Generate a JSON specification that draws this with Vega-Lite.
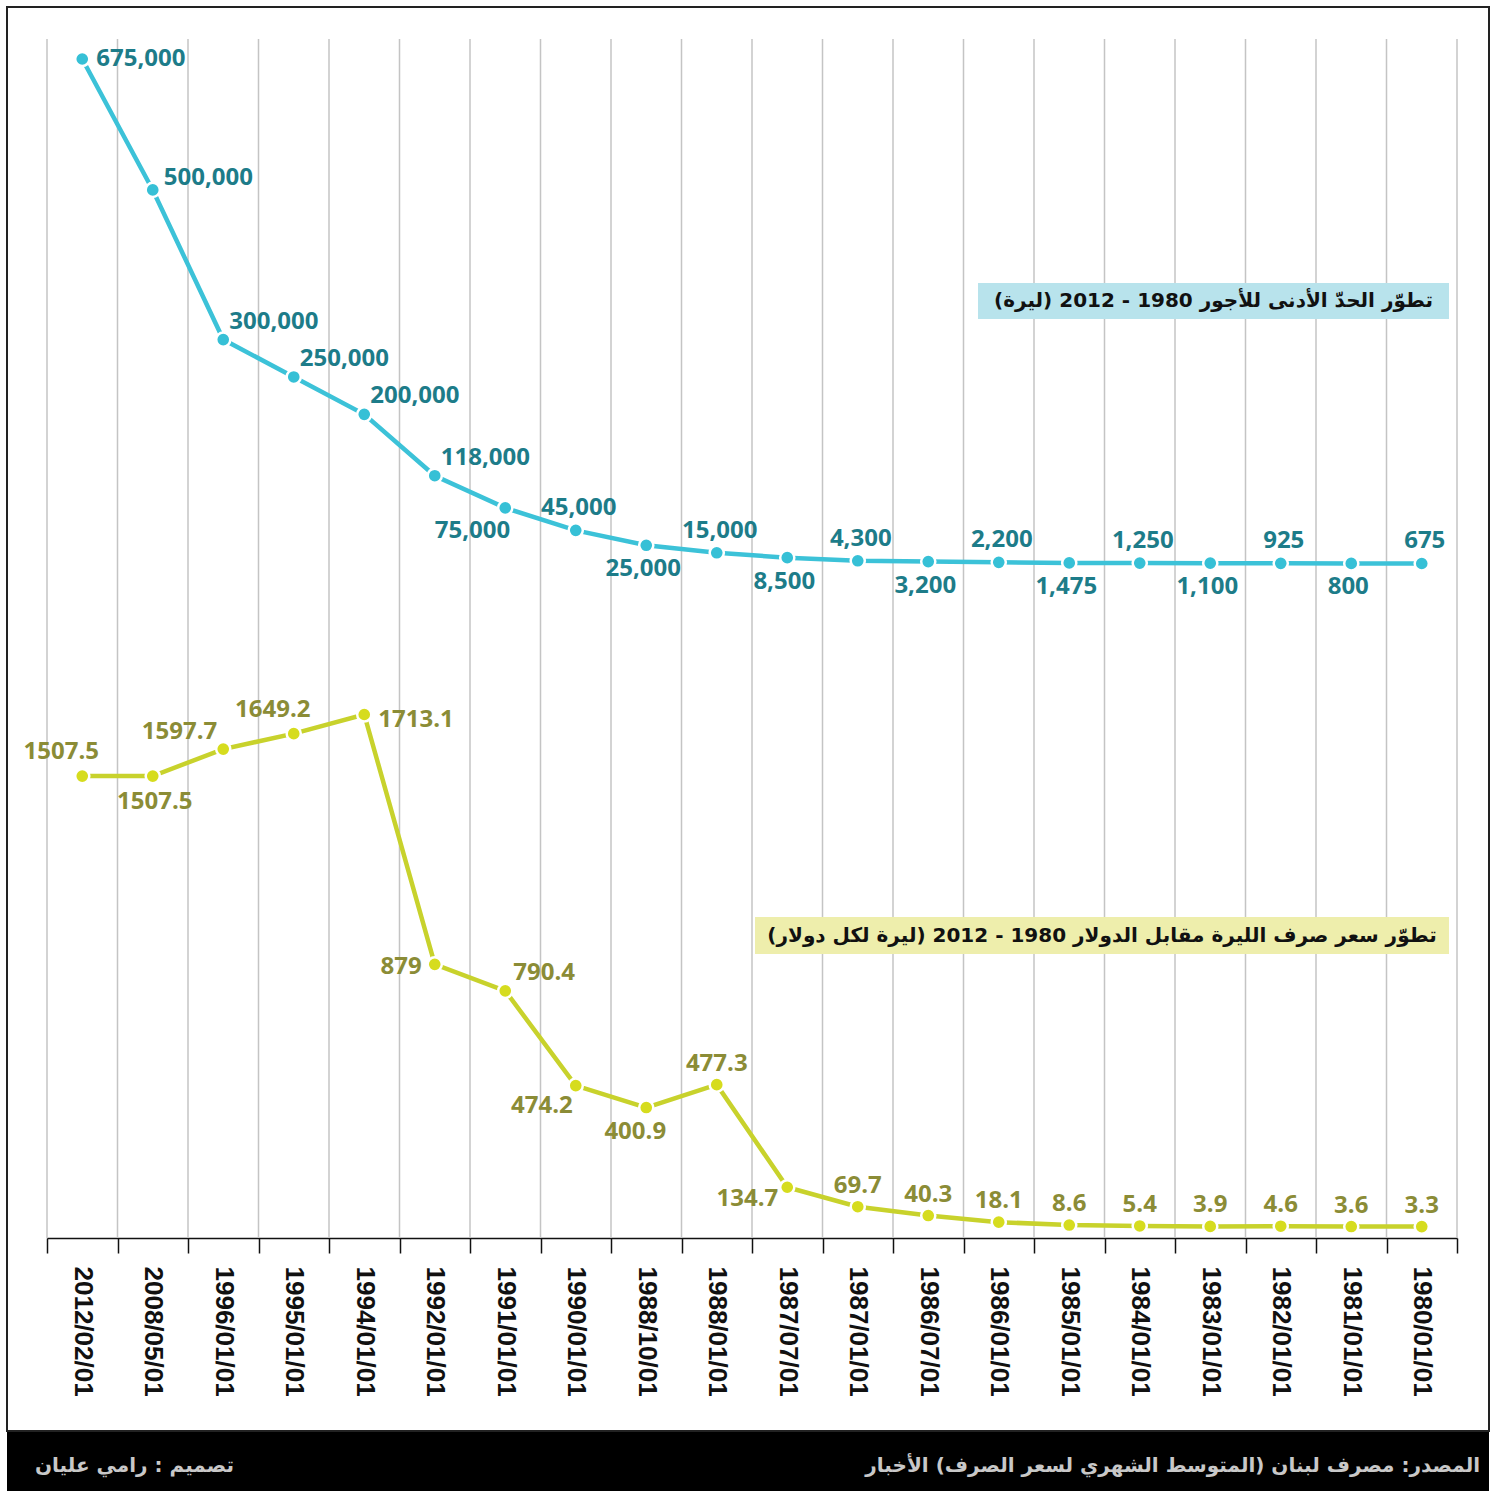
{
  "$schema": "https://vega.github.io/schema/vega-lite/v6.json",
  "background": "white",
  "padding": {"left": -7, "top": 6, "right": 0, "bottom": 0},
  "spacing": 0,
  "config": {"view": {"stroke": null}},
  "datasets": {
    "series": [
      {"date": "2012/02/01", "wage": 675000, "rate": 1507.5},
      {"date": "2008/05/01", "wage": 500000, "rate": 1507.5},
      {"date": "1996/01/01", "wage": 300000, "rate": 1597.7},
      {"date": "1995/01/01", "wage": 250000, "rate": 1649.2},
      {"date": "1994/01/01", "wage": 200000, "rate": 1713.1},
      {"date": "1992/01/01", "wage": 118000, "rate": 879},
      {"date": "1991/01/01", "wage": 75000, "rate": 790.4},
      {"date": "1990/01/01", "wage": 45000, "rate": 474.2},
      {"date": "1988/10/01", "wage": 25000, "rate": 400.9},
      {"date": "1988/01/01", "wage": 15000, "rate": 477.3},
      {"date": "1987/07/01", "wage": 8500, "rate": 134.7},
      {"date": "1987/01/01", "wage": 4300, "rate": 69.7},
      {"date": "1986/07/01", "wage": 3200, "rate": 40.3},
      {"date": "1986/01/01", "wage": 2200, "rate": 18.1},
      {"date": "1985/01/01", "wage": 1475, "rate": 8.6},
      {"date": "1984/01/01", "wage": 1250, "rate": 5.4},
      {"date": "1983/01/01", "wage": 1100, "rate": 3.9},
      {"date": "1982/01/01", "wage": 925, "rate": 4.6},
      {"date": "1981/01/01", "wage": 800, "rate": 3.6},
      {"date": "1980/01/01", "wage": 675, "rate": 3.3}
    ]
  },
  "vconcat": [
    {
      "width": 1482,
      "height": 1424,
      "view": {"stroke": "#222222", "strokeWidth": 2},
      "data": {"name": "series"},
      "encoding": {
        "x": {
          "field": "date", "type": "ordinal",
          "scale": {"domain": ["2012/02/01","2008/05/01","1996/01/01","1995/01/01","1994/01/01","1992/01/01","1991/01/01","1990/01/01","1988/10/01","1988/01/01","1987/07/01","1987/01/01","1986/07/01","1986/01/01","1985/01/01","1984/01/01","1983/01/01","1982/01/01","1981/01/01","1980/01/01"], "range": [40, 1450], "paddingInner": 0, "paddingOuter": 0},
          "axis": {
            "title": null, "orient": "bottom", "offset": -193, "tickBand": "extent",
            "grid": false,
            "domainColor": "#111111", "domainWidth": 1.5,
            "tickColor": "#111111", "tickWidth": 1.5, "tickSize": 15,
            "labelAngle": 90, "labelFont": "Liberation Sans", "labelFontSize": 26,
            "labelFontWeight": "bold", "labelColor": "#111111", "labelPadding": 13,
            "labelOverlap": false, "labelBound": false, "labelFlush": false
          }
        }
      },
      "resolve": {"scale": {"y": "independent"}},
      "layer": [
        {
          "encoding": {
            "y": {"datum": 0, "type": "quantitative", "scale": {"domain": [0, 1], "range": [32, 1231]}, "axis": null},
            "y2": {"datum": 1}
          },
          "layer": [
            {"mark": {"type": "rule", "color": "#c4c4c4", "strokeWidth": 1.5, "xOffset": -35.25}},
            {
              "transform": [{"filter": {"field": "date", "equal": "1980/01/01"}}],
              "mark": {"type": "rule", "color": "#c4c4c4", "strokeWidth": 1.5, "xOffset": 35.25}
            }
          ]
        },
        {
          "encoding": {
            "y": {"field": "wage", "type": "quantitative", "scale": {"domain": [0, 675000], "range": [557, 52]}, "axis": null}
          },
          "layer": [
            {"mark": {"type": "line", "color": "#3cc2d8", "strokeWidth": 4.5}, "encoding": {}},
            {"mark": {"type": "point", "filled": true, "color": "#36c0d6", "size": 200, "stroke": "white", "strokeWidth": 2.5, "opacity": 1}, "encoding": {}},
            {
              "transform": [{"filter": {"field": "date", "oneOf": ["2012/02/01"]}}],
              "mark": {"type": "text", "align": "left", "baseline": "middle", "dx": 14, "dy": 0, "font": "Open Sans", "fontWeight": "bold", "fontSize": 24, "color": "#1d7c89"},
              "encoding": {"text": {"field": "wage", "type": "quantitative", "format": ","}}
            },
            {
              "transform": [{"filter": {"field": "date", "oneOf": ["2008/05/01"]}}],
              "mark": {"type": "text", "align": "left", "baseline": "middle", "dx": 11, "dy": -12, "font": "Open Sans", "fontWeight": "bold", "fontSize": 24, "color": "#1d7c89"},
              "encoding": {"text": {"field": "wage", "type": "quantitative", "format": ","}}
            },
            {
              "transform": [{"filter": {"field": "date", "oneOf": ["1996/01/01", "1995/01/01", "1994/01/01", "1992/01/01"]}}],
              "mark": {"type": "text", "align": "left", "baseline": "middle", "dx": 6, "dy": -18, "font": "Open Sans", "fontWeight": "bold", "fontSize": 24, "color": "#1d7c89"},
              "encoding": {"text": {"field": "wage", "type": "quantitative", "format": ","}}
            },
            {
              "transform": [{"filter": {"field": "date", "oneOf": ["1991/01/01"]}}],
              "mark": {"type": "text", "align": "right", "baseline": "middle", "dx": 5, "dy": 23, "font": "Open Sans", "fontWeight": "bold", "fontSize": 24, "color": "#1d7c89"},
              "encoding": {"text": {"field": "wage", "type": "quantitative", "format": ","}}
            },
            {
              "transform": [{"filter": {"field": "date", "oneOf": ["1990/01/01", "1988/01/01", "1987/01/01", "1986/01/01", "1984/01/01", "1982/01/01", "1980/01/01"]}}],
              "mark": {"type": "text", "align": "center", "baseline": "middle", "dx": 3, "dy": -22, "font": "Open Sans", "fontWeight": "bold", "fontSize": 24, "color": "#1d7c89"},
              "encoding": {"text": {"field": "wage", "type": "quantitative", "format": ","}}
            },
            {
              "transform": [{"filter": {"field": "date", "oneOf": ["1988/10/01", "1987/07/01", "1986/07/01", "1985/01/01", "1983/01/01", "1981/01/01"]}}],
              "mark": {"type": "text", "align": "center", "baseline": "middle", "dx": -3, "dy": 24, "font": "Open Sans", "fontWeight": "bold", "fontSize": 24, "color": "#1d7c89"},
              "encoding": {"text": {"field": "wage", "type": "quantitative", "format": ","}}
            },
            {
              "transform": [{"filter": {"field": "date", "equal": "1983/01/01"}}],
              "encoding": {
                "y": {"datum": 351500, "type": "quantitative", "scale": {"domain": [0, 675000], "range": [557, 52]}, "axis": null}
              },
              "layer": [
                {"mark": {"type": "point", "shape": "M-1,-0.0764L1,-0.0764L1,0.0764L-1,0.0764Z", "size": 221841, "filled": true, "color": "#b8e3ec", "opacity": 1, "strokeWidth": 0, "xOffset": 3.25}},
                {"mark": {"type": "text", "align": "center", "baseline": "middle", "font": "DejaVu Sans", "fontWeight": "bold", "fontSize": 20, "color": "#111111", "xOffset": 3.25},
                 "encoding": {"text": {"value": "\u202bتطوّر الحدّ الأدنى للأجور 1980 - 2012  (ليرة)\u202c"}}}
              ]
            }
          ]
        },
        {
          "encoding": {
            "y": {"field": "rate", "type": "quantitative", "scale": {"domain": [0, 1713.1], "range": [1220.6, 707.5]}, "axis": null}
          },
          "layer": [
            {"mark": {"type": "line", "color": "#c8d22c", "strokeWidth": 4.5}, "encoding": {}},
            {"mark": {"type": "point", "filled": true, "color": "#d6dc1e", "size": 200, "stroke": "white", "strokeWidth": 2.5, "opacity": 1}, "encoding": {}},
            {
              "transform": [{"filter": {"field": "date", "oneOf": ["2012/02/01", "1995/01/01"]}}],
              "mark": {"type": "text", "align": "center", "baseline": "middle", "dx": -21, "dy": -24, "font": "Open Sans", "fontWeight": "bold", "fontSize": 24, "color": "#8b8c36"},
              "encoding": {"text": {"field": "rate", "type": "quantitative", "format": "~f"}}
            },
            {
              "transform": [{"filter": {"field": "date", "oneOf": ["2008/05/01"]}}],
              "mark": {"type": "text", "align": "center", "baseline": "middle", "dx": 2, "dy": 26, "font": "Open Sans", "fontWeight": "bold", "fontSize": 24, "color": "#8b8c36"},
              "encoding": {"text": {"field": "rate", "type": "quantitative", "format": "~f"}}
            },
            {
              "transform": [{"filter": {"field": "date", "oneOf": ["1988/10/01"]}}],
              "mark": {"type": "text", "align": "center", "baseline": "middle", "dx": -11, "dy": 24, "font": "Open Sans", "fontWeight": "bold", "fontSize": 24, "color": "#8b8c36"},
              "encoding": {"text": {"field": "rate", "type": "quantitative", "format": "~f"}}
            },
            {
              "transform": [{"filter": {"field": "date", "oneOf": ["1996/01/01"]}}],
              "mark": {"type": "text", "align": "right", "baseline": "middle", "dx": -6, "dy": -17, "font": "Open Sans", "fontWeight": "bold", "fontSize": 24, "color": "#8b8c36"},
              "encoding": {"text": {"field": "rate", "type": "quantitative", "format": "~f"}}
            },
            {
              "transform": [{"filter": {"field": "date", "oneOf": ["1994/01/01"]}}],
              "mark": {"type": "text", "align": "left", "baseline": "middle", "dx": 14, "dy": 5, "font": "Open Sans", "fontWeight": "bold", "fontSize": 24, "color": "#8b8c36"},
              "encoding": {"text": {"field": "rate", "type": "quantitative", "format": "~f"}}
            },
            {
              "transform": [{"filter": {"field": "date", "oneOf": ["1992/01/01"]}}],
              "mark": {"type": "text", "align": "right", "baseline": "middle", "dx": -13, "dy": 3, "font": "Open Sans", "fontWeight": "bold", "fontSize": 24, "color": "#8b8c36"},
              "encoding": {"text": {"field": "rate", "type": "quantitative", "format": "~f"}}
            },
            {
              "transform": [{"filter": {"field": "date", "oneOf": ["1991/01/01"]}}],
              "mark": {"type": "text", "align": "left", "baseline": "middle", "dx": 8, "dy": -18, "font": "Open Sans", "fontWeight": "bold", "fontSize": 24, "color": "#8b8c36"},
              "encoding": {"text": {"field": "rate", "type": "quantitative", "format": "~f"}}
            },
            {
              "transform": [{"filter": {"field": "date", "oneOf": ["1990/01/01"]}}],
              "mark": {"type": "text", "align": "right", "baseline": "middle", "dx": -3, "dy": 20, "font": "Open Sans", "fontWeight": "bold", "fontSize": 24, "color": "#8b8c36"},
              "encoding": {"text": {"field": "rate", "type": "quantitative", "format": "~f"}}
            },
            {
              "transform": [{"filter": {"field": "date", "oneOf": ["1987/07/01"]}}],
              "mark": {"type": "text", "align": "right", "baseline": "middle", "dx": -9, "dy": 12, "font": "Open Sans", "fontWeight": "bold", "fontSize": 24, "color": "#8b8c36"},
              "encoding": {"text": {"field": "rate", "type": "quantitative", "format": "~f"}}
            },
            {
              "transform": [{"filter": {"field": "date", "oneOf": ["1988/01/01", "1987/01/01", "1986/07/01", "1986/01/01", "1985/01/01", "1984/01/01", "1983/01/01", "1982/01/01", "1981/01/01", "1980/01/01"]}}],
              "mark": {"type": "text", "align": "center", "baseline": "middle", "dx": 0, "dy": -21, "font": "Open Sans", "fontWeight": "bold", "fontSize": 24, "color": "#8b8c36"},
              "encoding": {"text": {"field": "rate", "type": "quantitative", "format": "~f"}}
            },
            {
              "transform": [{"filter": {"field": "date", "equal": "1985/01/01"}}],
              "encoding": {
                "y": {"datum": 975, "type": "quantitative", "scale": {"domain": [0, 1713.1], "range": [1220.6, 707.5]}, "axis": null}
              },
              "layer": [
                {"mark": {"type": "point", "shape": "M-1,-0.0533L1,-0.0533L1,0.0533L-1,0.0533Z", "size": 481636, "filled": true, "color": "#eeeeac", "opacity": 1, "strokeWidth": 0, "xOffset": 32.75}},
                {"mark": {"type": "text", "align": "center", "baseline": "middle", "font": "DejaVu Sans", "fontWeight": "bold", "fontSize": 20, "color": "#111111", "xOffset": 32.75},
                 "encoding": {"text": {"value": "\u202bتطوّر سعر صرف الليرة مقابل الدولار 1980 - 2012 (ليرة لكل دولار)\u202c"}}}
              ]
            }
          ]
        }
      ]
    },
    {
      "width": 1482,
      "height": 61,
      "view": {"fill": "#000000", "stroke": null},
      "data": {"values": [
        {"role": "designer", "label": "\u202bتصميم : رامي عليان\u202c"},
        {"role": "source", "label": "\u202bالمصدر: مصرف لبنان (المتوسط الشهري لسعر الصرف) الأخبار\u202c"}
      ]},
      "encoding": {
        "x": {"field": "role", "type": "nominal", "scale": {"type": "point", "domain": ["designer", "source"], "range": [28, 1473], "padding": 0}, "axis": null},
        "text": {"field": "label"}
      },
      "layer": [
        {
          "transform": [{"filter": {"field": "role", "equal": "designer"}}],
          "mark": {"type": "text", "align": "left", "baseline": "middle", "font": "DejaVu Sans", "fontWeight": "bold", "fontSize": 20, "color": "#c8c8c8", "dy": 3}
        },
        {
          "transform": [{"filter": {"field": "role", "equal": "source"}}],
          "mark": {"type": "text", "align": "right", "baseline": "middle", "font": "DejaVu Sans", "fontWeight": "bold", "fontSize": 20, "color": "#c8c8c8", "dy": 3}
        }
      ]
    }
  ]
}
